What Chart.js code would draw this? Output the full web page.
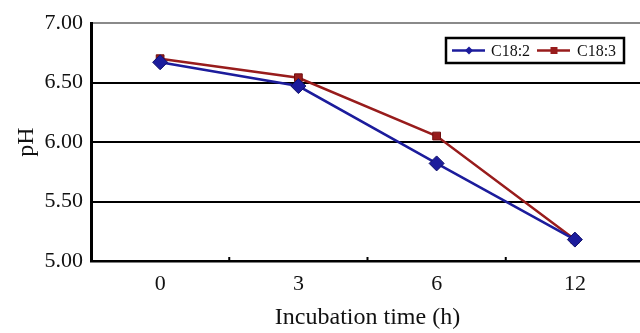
<!DOCTYPE html>
<html>
<head>
<meta charset="utf-8">
<script src="https://cdn.jsdelivr.net/npm/chart.js@4/dist/chart.umd.min.js"></script>
<style>
  html, body { margin: 0; padding: 0; background: #ffffff; overflow: hidden; }
  #wrap { width: 660px; height: 333px; position: relative; }
</style>
</head>
<body>
<div id="wrap"><canvas id="c"></canvas></div>
<script>
const categories = ['0', '3', '6', '12'];
const c182 = [6.67, 6.47, 5.82, 5.18];
const c183 = [6.70, 6.54, 6.05, 5.18];
const seriesNames = ['C18:2', 'C18:3'];
const yTicks = [5.0, 5.5, 6.0, 6.5, 7.0];
const xTitle = 'Incubation time (h)';
const yTitle = 'pH';

const BLUE = '#1c1c9c';
const RED = '#981c1c';
const SERIF = '"Liberation Serif", "DejaVu Serif", serif';

const innerTicks = {
  id: 'innerTicks',
  afterDatasetsDraw(chart) {
    const x = chart.scales.x, ctx = chart.ctx;
    const bottom = chart.chartArea.bottom;
    ctx.save();
    ctx.strokeStyle = '#000';
    ctx.lineWidth = 2;
    for (let i = 0; i < categories.length - 1; i++) {
      const px = (x.getPixelForValue(i) + x.getPixelForValue(i + 1)) / 2;
      ctx.beginPath();
      ctx.moveTo(px, bottom);
      ctx.lineTo(px, bottom - 4);
      ctx.stroke();
    }
    ctx.restore();
  }
};

const boxLegend = {
  id: 'boxLegend',
  afterDraw(chart) {
    const ctx = chart.ctx;
    const left = 446, top = 38, right = 624, bottom = 63;
    ctx.save();
    ctx.fillStyle = '#fff';
    ctx.fillRect(left, top, right - left, bottom - top);
    ctx.strokeStyle = '#000';
    ctx.lineWidth = 2.5;
    ctx.strokeRect(left, top, right - left, bottom - top);
    const cy = (top + bottom) / 2;
    const items = [{x: 452, tx: 491}, {x: 537, tx: 577}];
    chart.data.datasets.forEach((ds, i) => {
      const it = items[i];
      ctx.strokeStyle = ds.borderColor;
      ctx.lineWidth = 2.5;
      ctx.beginPath();
      ctx.moveTo(it.x, cy);
      ctx.lineTo(it.x + 33, cy);
      ctx.stroke();
      ctx.fillStyle = ds.borderColor;
      const mx = it.x + 17;
      if (ds.pointStyle === 'rectRot') {
        ctx.beginPath();
        ctx.moveTo(mx, cy - 4); ctx.lineTo(mx + 4, cy); ctx.lineTo(mx, cy + 4); ctx.lineTo(mx - 4, cy);
        ctx.closePath(); ctx.fill();
      } else {
        ctx.fillRect(mx - 3.5, cy - 3.5, 7, 7);
      }
      ctx.fillStyle = '#111';
      ctx.font = '16px ' + SERIF;
      ctx.textBaseline = 'middle';
      ctx.textAlign = 'left';
      ctx.fillText(ds.label, it.tx, cy + 1);
    });
    ctx.restore();
  }
};

new Chart(document.getElementById('c'), {
  type: 'line',
  data: {
    labels: categories,
    datasets: [
      {
        label: seriesNames[0], data: c182,
        borderColor: BLUE, backgroundColor: BLUE,
        borderWidth: 2.5, pointStyle: 'rectRot', pointRadius: 7.5,
        pointBorderColor: '#10106a', pointBorderWidth: 1,
        tension: 0
      },
      {
        label: seriesNames[1], data: c183,
        borderColor: RED, backgroundColor: RED,
        borderWidth: 2.5, pointStyle: 'rect', pointRadius: 5.5,
        pointBorderColor: '#701010', pointBorderWidth: 1,
        tension: 0
      }
    ]
  },
  options: {
    responsive: true,
    maintainAspectRatio: false,
    animation: false,
    layout: { padding: { top: 23, right: 16, left: 0, bottom: 0 } },
    plugins: { legend: { display: false }, tooltip: { enabled: false } },
    scales: {
      x: {
        type: 'category',
        offset: true,
        grid: { display: false, drawTicks: false },
        border: { display: true, color: '#000', width: 2.5 },
        ticks: {
          color: '#111', padding: 10,
          font: { family: SERIF, size: 22, weight: 'normal' }
        },
        title: {
          display: true, text: xTitle, color: '#111',
          font: { family: SERIF, size: 24, weight: 'normal' },
          padding: { top: 0, bottom: 1 }
        },
        afterFit(s) { s.height = 72; }
      },
      y: {
        min: 5, max: 7,
        afterBuildTicks(s) { s.ticks = yTicks.map(v => ({ value: v })); },
        grid: {
          drawTicks: false,
          color: (c) => (c.tick && c.tick.value === 7 ? '#8a8a8a' : '#000'),
          lineWidth: 2
        },
        border: { display: true, color: '#000', width: 3 },
        ticks: {
          color: '#111', padding: 8,
          font: { family: SERIF, size: 22, weight: 'normal' },
          callback: (v) => Number(v).toFixed(2)
        },
        title: {
          display: true, text: yTitle, color: '#111',
          font: { family: SERIF, size: 24, weight: 'normal' },
          padding: { top: 12, bottom: 0 }
        },
        afterFit(s) { s.width = 91; }
      }
    }
  },
  plugins: [innerTicks, boxLegend]
});
</script>
</body>
</html>
